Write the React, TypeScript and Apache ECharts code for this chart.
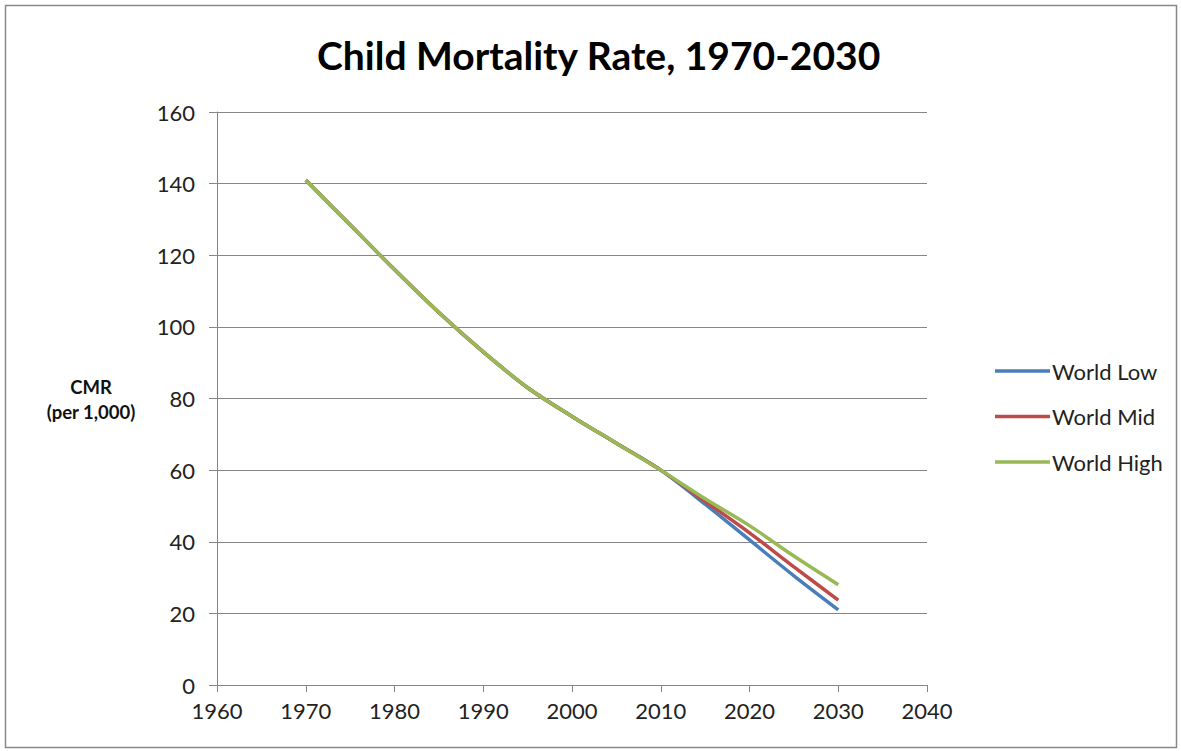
import React, { useEffect, useRef } from "react";
import * as echarts from "echarts";

const years = [1970, 1975, 1980, 1985, 1990, 1995, 2000, 2005, 2010, 2015, 2020, 2025, 2030];
const worldLow = [141, 128.5, 116, 104, 93, 83, 75, 67.5, 60, 50.5, 40.5, 30.5, 21];
const worldMid = [141, 128.5, 116, 104, 93, 83, 75, 67.5, 60, 51.3, 42.5, 33, 23.7];
const worldHigh = [141, 128.5, 116, 104, 93, 83, 75, 67.5, 60, 52, 44.5, 36, 28];
const seriesNames = ["World Low", "World Mid", "World High"];
const colors = ["#4A7EBB", "#BE4B48", "#98B954"];
const titleText = "Child Mortality Rate, 1970-2030";
const yAxisTitle = "CMR\n(per 1,000)";

const FONT = "Lato, 'Open Sans', sans-serif";

export default function App() {
  const ref = useRef<HTMLDivElement>(null);
  useEffect(() => {
    if (!ref.current) return;
    const chart = echarts.init(ref.current, null, { renderer: "svg" });
    const all = [worldLow, worldMid, worldHigh];
    chart.setOption({
      animation: false,
      backgroundColor: "#ffffff",
      title: {
        text: titleText,
        left: 312,
        top: 30,
        textStyle: { fontFamily: FONT, fontWeight: "bold", fontSize: 39, color: "#000" },
      },
      grid: { left: 217, right: 254, top: 112, bottom: 66, containLabel: false },
      legend: {
        orient: "vertical",
        left: 990,
        top: 354,
        icon: "rect",
        itemWidth: 55,
        itemHeight: 3.5,
        itemGap: 21.5,
        data: seriesNames,
        textStyle: { fontFamily: FONT, fontSize: 22, lineHeight: 24, color: "#222", padding: [0, 0, 0, -3] },
      },
      xAxis: {
        type: "value",
        min: 1960,
        max: 2040,
        interval: 10,
        axisLine: { show: true, lineStyle: { color: "#868686", width: 1 } },
        axisTick: { show: true, inside: false, length: 7, lineStyle: { color: "#868686" } },
        splitLine: { show: false },
        axisLabel: {
          margin: 14,
          fontFamily: FONT,
          fontSize: 22,
          color: "#222",
          formatter: (v: number) => String(v),
        },
      },
      yAxis: {
        type: "value",
        min: 0,
        max: 160,
        interval: 20,
        axisLine: { show: true, lineStyle: { color: "#868686", width: 1 } },
        axisTick: { show: true, inside: false, length: 8, lineStyle: { color: "#868686" } },
        splitLine: { show: true, lineStyle: { color: "#868686", width: 1 } },
        axisLabel: {
          margin: 22,
          fontFamily: FONT,
          fontSize: 22,
          color: "#222",
        },
      },
      graphic: [
        {
          type: "rect",
          shape: { x: 5.5, y: 5.5, width: 1171, height: 742 },
          style: { fill: "none", stroke: "#888888", lineWidth: 1.5 },
          silent: true,
        },
        {
          type: "text",
          x: 91,
          y: 399,
          style: {
            text: yAxisTitle,
            fontFamily: FONT,
            fontWeight: "bold",
            fontSize: 18.5,
            lineHeight: 25,
            fill: "#111",
            align: "center",
            verticalAlign: "middle",
          },
        },
      ],
      series: seriesNames.map((name, i) => ({
        name,
        type: "line",
        smooth: 0.3,
        symbol: "none",
        color: colors[i],
        lineStyle: { width: 3.5, color: colors[i] },
        data: years.map((y, j) => [y, all[i][j]]),
      })),
    });
    return () => chart.dispose();
  }, []);
  return (
    <div
      ref={ref}
      style={{ position: "fixed", left: 0, top: 0, width: 1181, height: 751 }}
    />
  );
}
